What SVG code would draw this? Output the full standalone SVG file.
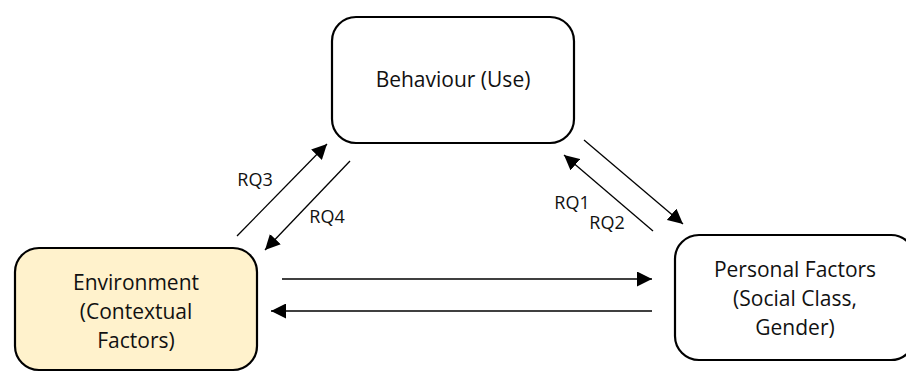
<svg xmlns="http://www.w3.org/2000/svg" width="906" height="372" viewBox="0 0 906 372">
<style>
.box{stroke:#000;stroke-width:2.2}
.t{font-family:"Open Sans","Liberation Sans",sans-serif;font-size:21px;fill:#111;text-anchor:middle}
.l{font-family:"Open Sans","Liberation Sans",sans-serif;font-size:18px;fill:#111;text-anchor:middle}
.c{stroke:#000;stroke-width:1.3;fill:none;marker-end:url(#ah)}
</style>
<defs>
<marker id="ah" viewBox="0 0 10 10" refX="10" refY="5" markerWidth="15" markerHeight="15" markerUnits="userSpaceOnUse" orient="auto">
<path d="M0,0 L10,5 L0,10 Z" fill="#000"/>
</marker>
</defs>
<g id="behaviour">
<rect class="box" x="332" y="17" width="242" height="126" rx="24" fill="#fff"/>
<text class="t" x="453" y="87">Behaviour (Use)</text>
</g>
<g id="environment">
<rect class="box" x="15" y="248" width="242" height="122" rx="24" fill="#FFF2CC"/>
<text class="t" x="136" y="290">Environment</text>
<text class="t" x="136" y="319">(Contextual</text>
<text class="t" x="136" y="348">Factors)</text>
</g>
<g id="personal">
<rect class="box" x="675" y="235" width="240" height="125" rx="24" fill="#fff"/>
<text class="t" x="795" y="277">Personal Factors</text>
<text class="t" x="795" y="306">(Social Class,</text>
<text class="t" x="795" y="335">Gender)</text>
</g>
<g id="connectors">
<line class="c" x1="237" y1="236" x2="327" y2="144"/>
<line class="c" x1="350" y1="161" x2="265" y2="250"/>
<line class="c" x1="584" y1="140" x2="683" y2="224"/>
<line class="c" x1="653" y1="231" x2="564" y2="155"/>
<line class="c" x1="282" y1="279" x2="652" y2="279"/>
<line class="c" x1="652" y1="311" x2="271" y2="311"/>
</g>
<g id="labels">
<text class="l" x="255" y="186">RQ3</text>
<text class="l" x="327" y="223">RQ4</text>
<text class="l" x="572" y="209">RQ1</text>
<text class="l" x="607" y="229">RQ2</text>
</g>
</svg>
